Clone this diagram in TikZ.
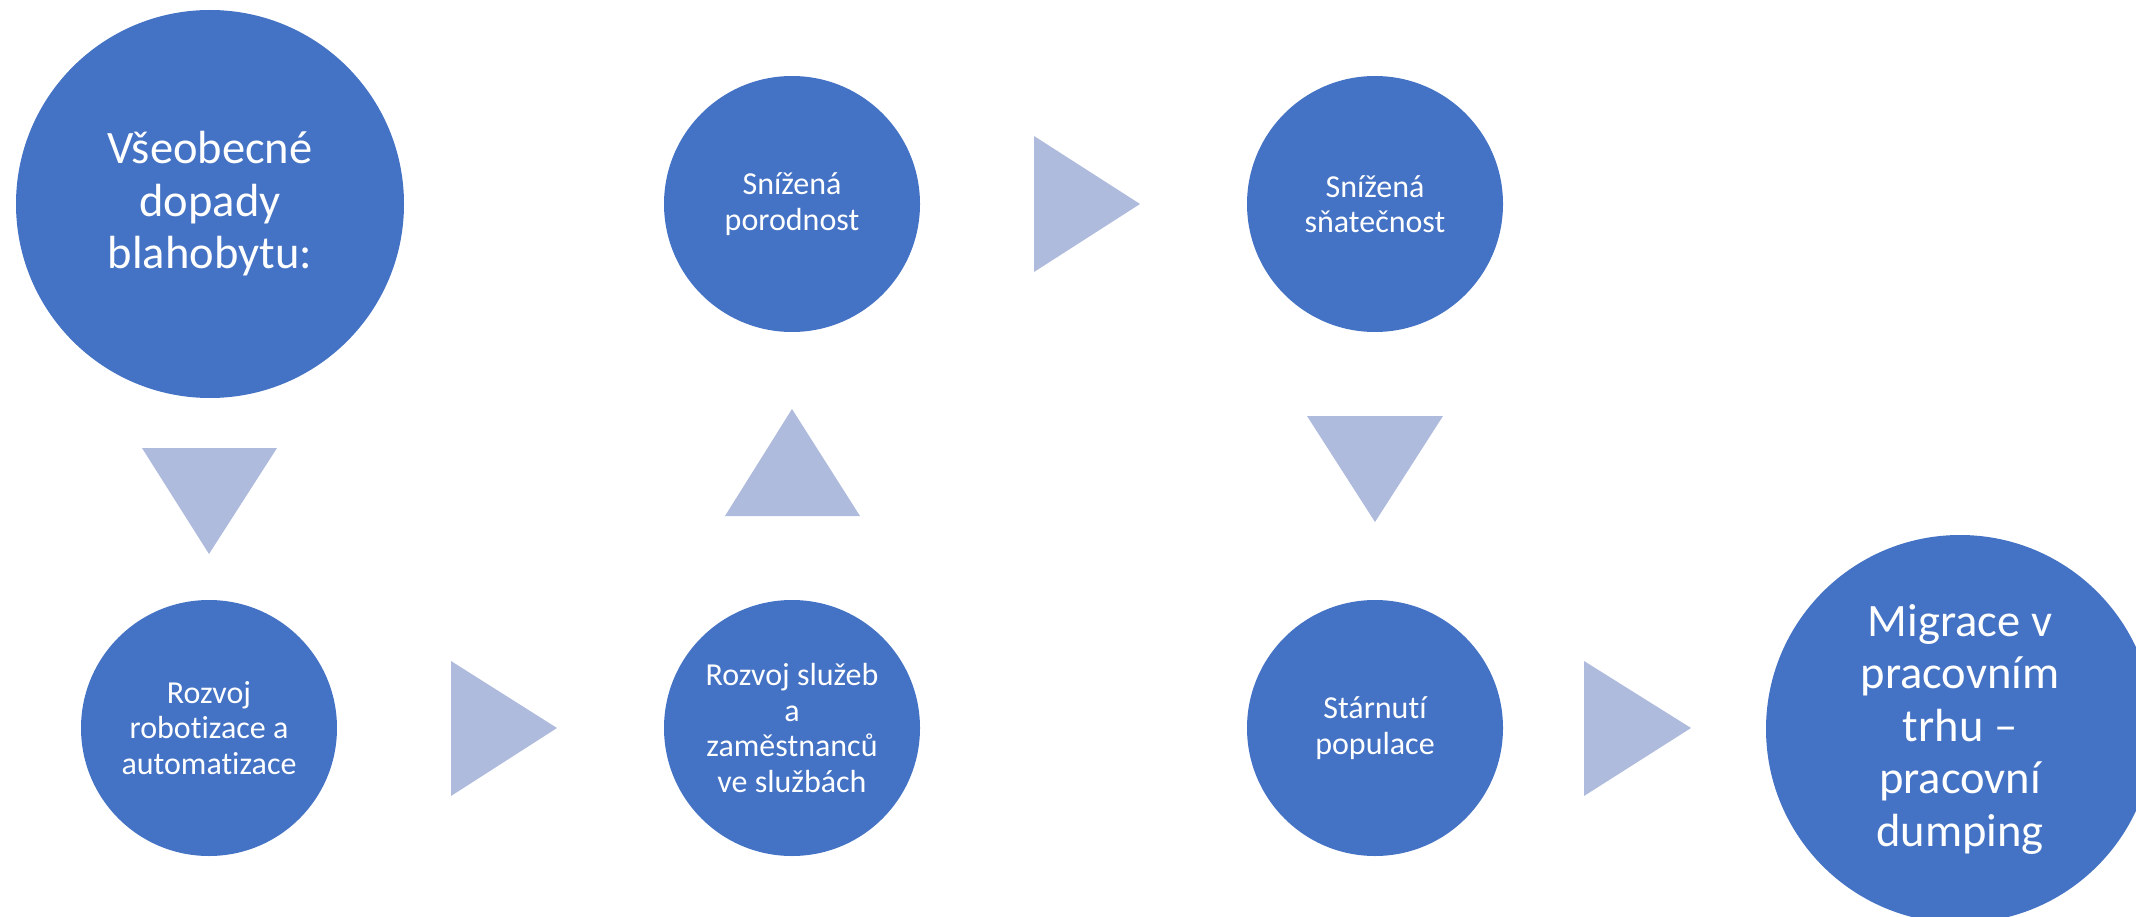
\documentclass[tikz,border=0pt]{standalone}
\usepackage{fontspec}
\setmainfont{Carlito}[Ligatures=NoCommon]
\definecolor{circblue}{RGB}{68,114,196}
\definecolor{arrowtint}{RGB}{175,187,221}
\begin{document}
\begin{tikzpicture}[x=1pt,y=-1pt,
  bubble/.style={circle,fill=circblue,draw=none,inner sep=0pt,text=white,align=center},
  smallbubble/.style={bubble,minimum size=256pt,font=\fontsize{32}{35.5}\selectfont},
  bigbubble/.style={bubble,minimum size=388pt,font=\fontsize{46.5}{52.5}\selectfont},
  arrowtri/.style={fill=arrowtint,draw=none}]
\useasboundingbox (0,0) rectangle (2136,917);
\clip (0,0) rectangle (2136,917);
% circles
\node[bigbubble]   (vse)  at (210,204)  {Všeobecné\\dopady\\blahobytu:};
\node[smallbubble] (por)  at (792,204)  {Snížená\\porodnost};
\node[smallbubble] (snat) at (1375,204) {Snížená\\sňatečnost};
\node[smallbubble] (rob)  at (209,728)  {Rozvoj\\robotizace a\\automatizace};
\node[smallbubble] (sluz) at (792,728)  {Rozvoj služeb\\a\\zaměstnanců\\ve službách};
\node[smallbubble] (star) at (1375,728) {Stárnutí\\populace};
\node[bigbubble]   (mig)  at (1960,729) {Migrace v\\pracovním\\trhu –\\pracovní\\dumping};
% arrow triangles
\fill[arrowtri] (142,448) -- (277,448) -- (209,554) -- cycle;
\fill[arrowtri] (451,661) -- (451,796) -- (557,728) -- cycle;
\fill[arrowtri] (725,516) -- (860,516) -- (792,409) -- cycle;
\fill[arrowtri] (1034,136) -- (1034,272) -- (1140,204) -- cycle;
\fill[arrowtri] (1307,416) -- (1443,416) -- (1375,522) -- cycle;
\fill[arrowtri] (1584,661) -- (1584,796) -- (1691,728) -- cycle;
\end{tikzpicture}
\end{document}
